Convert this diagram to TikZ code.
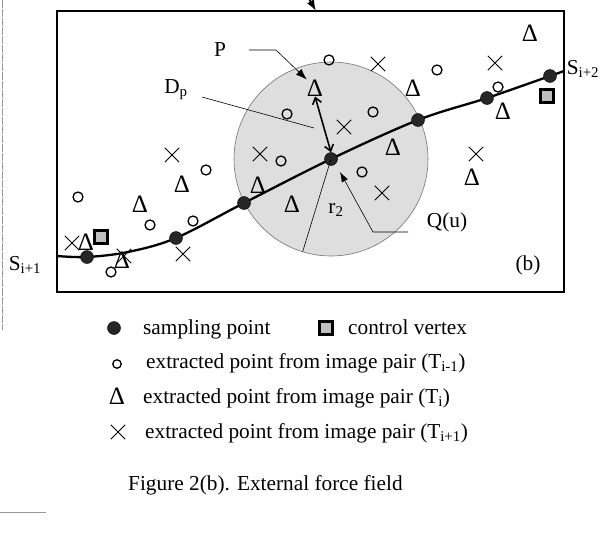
\documentclass[tikz,border=0pt]{standalone}
\usepackage{fontspec}
\setmainfont{Liberation Serif}
\usetikzlibrary{shapes.misc,arrows.meta}

\begin{document}
\begin{tikzpicture}[x=1pt, y=-1pt, font=\fontsize{21.3}{25}\selectfont,
  samp/.style={circle, fill=black!85, draw=black, inner sep=0pt, minimum size=13pt},
  cvert/.style={rectangle, draw=black, line width=2.8pt, fill=black!25, inner sep=0pt, minimum size=13.5pt},
  ptprev/.style={circle, draw, line width=1.3pt, inner sep=0pt, minimum size=10pt},
  ptcur/.style={inner sep=0pt, font=\fontsize{25}{28}\selectfont},
  ptnext/.style={cross out, draw, line width=0.9pt, inner sep=0pt, minimum size=13.5pt},
  lead/.style={line width=0.6pt},
  lbl/.style={inner sep=0pt}]
  \useasboundingbox (0,0) rectangle (600,538);
  \draw[black!40, line width=1pt, dash pattern=on 8pt off 1pt] (2,0) -- (2,330);
  \draw[black!40, line width=1pt] (0,512) -- (46,512);
  % frame and domain D_p
  \draw[line width=1.4pt] (57,11) rectangle (564,292);
  \draw[line width=1.8pt, -{Latex[length=11pt, width=8pt]}] (308,-3) -- (316,11);
  \draw[black!55, line width=0.6pt, fill=black!13] (331,159) circle (97pt);
  % snake through the sampling points
  \foreach \x/\y [count=\i] in {87/257, 176/238, 244/203, 331/159, 418/120, 487/98, 550/76}
    \coordinate (s\i) at (\x,\y);
  \coordinate (lend) at (57,256);
  \coordinate (rend) at (564,71);
  \draw[line width=2.3pt] plot[smooth, tension=0.55] coordinates {(lend) (s1) (128,252) (s2) (s3) (s4) (s5) (s6) (s7) (rend)};
  \foreach \i in {1,...,7}
    \node[samp] (dot\i) at (s\i) {};
  \node[cvert] (cv1) at (101,237) {};
  \node[cvert] (cv2) at (547,96) {};
  % extracted points
  \foreach \x/\y [count=\i] in {329/60, 437/70, 498/87, 287/114, 373/112, 281/161, 206/170, 362/172, 78/197, 150/225, 193/221, 111/272}
    \node[ptprev] (o\i) at (\x,\y) {};
  \foreach \x/\y [count=\i] in {530/33, 315/88, 413/88, 503/111, 393/147, 472/177, 182/184, 258/185, 292/204, 140/204, 86/242, 122/260}
    \node[ptcur] (d\i) at (\x,\y) {Δ};
  \foreach \x/\y [count=\i] in {378/64, 495/63, 344/127, 172/155, 260/154, 476/154, 382/193, 72/243, 124/256, 183/254}
    \node[ptnext] (x\i) at (\x,\y) {};
  % labels
  \node[lbl] (P) at (220,50) {P};
  \node[lbl] (Dp) at (176,90) {D\textsubscript{p}};
  \node[lbl] (r2) at (336,210) {r\textsubscript{2}};
  \node[lbl] (Qu) at (447,222) {Q(u)};
  \node[lbl] (b) at (528,265) {(b)};
  \node[lbl] (Sl) at (25,265) {S\textsubscript{i+1}};
  \node[lbl] (Sr) at (583,69) {S\textsubscript{i+2}};
  \draw[lead, -{Latex[length=11pt, width=8pt]}] ([xshift=29pt]P.center) -- ([xshift=56pt]P.center) -- (d2.north west);
  \draw[line width=1.6pt, {Straight Barb[length=6pt, width=9pt]}-{Straight Barb[length=6pt, width=9pt]}] (d2.south) -- (dot4.north);
  \draw[lead] ([shift={(26,7)}]Dp.center) -- ([shift={(-17,-31)}]s4);
  \draw[lead] (dot4.center) -- ++(107:97) coordinate (rim);
  \draw[lead, -{Latex[length=10pt, width=7pt]}] ([shift={(-39,10)}]Qu.center) -- ([shift={(-74,10)}]Qu.center) -- ([shift={(9,13)}]s4);
  % legend
  \node[samp] (lg1) at (114,328) {};
  \node[lbl, anchor=base west] (lt1) at (143,334) {sampling point};
  \node[cvert] (lg2) at (326,328) {};
  \node[lbl, anchor=base west] (lt2) at (348,334) {control vertex};
  \node[ptprev, minimum size=8.5pt] (lg3) at (117,364) {};
  \node[lbl, anchor=base west] (lt3) at (146,368) {extracted point from image pair (T\textsubscript{i-1})};
  \node[ptcur] (lg4) at (117,396) {Δ};
  \node[lbl, anchor=base west] (lt4) at (143,403) {extracted point from image pair (T\textsubscript{i})};
  \node[ptnext] (lg5) at (118,432) {};
  \node[lbl, anchor=base west] (lt5) at (145,438) {extracted point from image pair (T\textsubscript{i+1})};
  \node[lbl, anchor=base west] (cap) at (128,490) {Figure 2(b). External force field};
\end{tikzpicture}
\end{document}
